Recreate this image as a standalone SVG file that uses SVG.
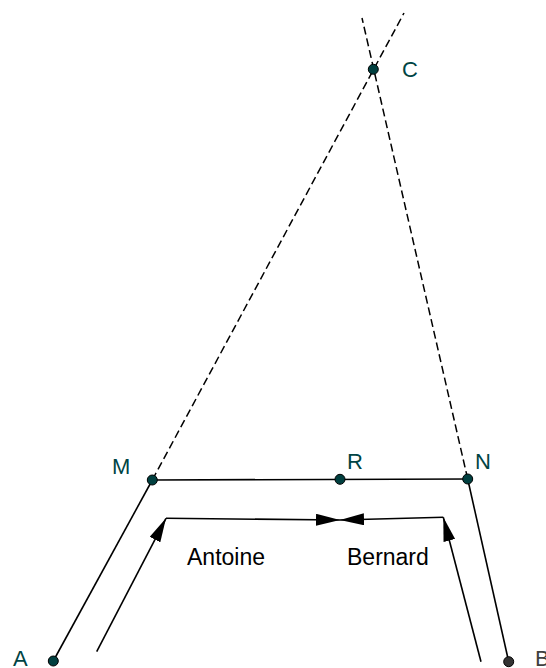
<svg xmlns="http://www.w3.org/2000/svg" width="546" height="668" viewBox="0 0 546 668">
<style>
.solid{stroke:#000;stroke-width:1.6;fill:none}
.dash{stroke:#000;stroke-width:1.5;fill:none;stroke-dasharray:8 4}
.arr{stroke:#000;stroke-width:1.6;fill:none;marker-end:url(#ah)}
.pt{fill:#003f3f;stroke:#000;stroke-width:1}
.lbl{font-family:"Liberation Sans",Arial,sans-serif;font-size:22px;fill:#004444}
.name{font-family:"Liberation Sans",Arial,sans-serif;font-size:23px;fill:#000}
</style>
<defs>
<marker id="ah" markerUnits="userSpaceOnUse" markerWidth="24" markerHeight="12" refX="24" refY="6" orient="auto" viewBox="0 0 24 12">
<path d="M0,0 L24,6 L0,12 Z" fill="#000"/>
</marker>
</defs>
<g id="connectors">
<line class="dash" x1="152.3" y1="480" x2="404" y2="13"/>
<line class="dash" x1="467.7" y1="479" x2="362" y2="18"/>
<line class="solid" x1="152.3" y1="480" x2="467.7" y2="479"/>
<line class="solid" x1="53.3" y1="661" x2="152.3" y2="480"/>
<line class="solid" x1="467.7" y1="479" x2="508.7" y2="661.7"/>
<line class="arr" x1="96.7" y1="651.7" x2="166" y2="518.3"/>
<line class="arr" x1="166" y1="518.3" x2="340" y2="520"/>
<line class="arr" x1="481" y1="661.7" x2="443.3" y2="517.3"/>
<line class="arr" x1="443.3" y1="517.3" x2="340" y2="520"/>
</g>
<g id="C"><circle class="pt" cx="373.3" cy="69.3" r="5"/><text class="lbl" x="402" y="76.5">C</text></g>
<g id="M"><circle class="pt" cx="152.3" cy="480" r="5"/><text class="lbl" x="112" y="474">M</text></g>
<g id="R"><circle class="pt" cx="340" cy="479.3" r="5"/><text class="lbl" x="347" y="468.5">R</text></g>
<g id="N"><circle class="pt" cx="467.7" cy="479" r="5"/><text class="lbl" x="475" y="468.5">N</text></g>
<g id="A"><circle class="pt" cx="53.3" cy="661" r="5"/><text class="lbl" x="13" y="666">A</text></g>
<g id="B"><circle class="pt" cx="508.7" cy="661.7" r="5" style="fill:#333"/><text class="lbl" x="535" y="666" style="fill:#404040">B</text></g>
<g id="Antoine"><text class="name" x="187" y="565">Antoine</text></g>
<g id="Bernard"><text class="name" x="347" y="565">Bernard</text></g>
</svg>
